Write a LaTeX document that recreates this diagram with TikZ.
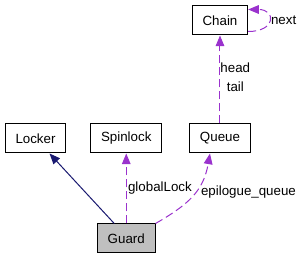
\documentclass[tikz,border=0pt]{standalone}
\usepackage{fontspec}
\setmainfont{Liberation Sans}
\usetikzlibrary{positioning,arrows.meta}

\definecolor{inhcol}{RGB}{25,25,112}
\definecolor{usecol}{RGB}{154,50,205}
\definecolor{boxgray}{RGB}{191,191,191}

\begin{document}
\begin{tikzpicture}[
  x=0.75pt, y=-0.75pt,
  cls/.style={draw, line width=0.75pt, minimum height=21.75pt, inner xsep=7.7pt, font=\fontsize{10}{14.25}\selectfont},
  lbl/.style={inner sep=1pt, font=\fontsize{10}{14.25}\selectfont, align=center},
  inherit/.style={draw=inhcol, line width=0.75pt, -{Triangle[length=8pt, width=6.5pt, fill=inhcol]}},
  usage/.style={draw=usecol, line width=0.75pt, dash pattern=on 6pt off 3pt, -{Triangle[length=8pt, width=6.5pt, fill=usecol]}}
]
\useasboundingbox (0,0) rectangle (301,259);
\node[cls] (queue) at (220,138.5) {Queue};
\node[cls, left=20.25pt of queue] (spinlock) {Spinlock};
\node[cls, left=18pt of spinlock] (locker) {Locker};
\node[cls, above=66pt of queue] (chain) {Chain};
\node[cls, fill=boxgray, below=52.5pt of spinlock] (guard) {Guard};

\draw[inherit] ([xshift=-9pt]guard.north) -- ([xshift=10.5pt]locker.south);
\draw[usage] (guard.north -| spinlock.south) -- node[lbl, right] {globalLock} (spinlock.south);
\draw[usage] (guard.north east) to[out=30, in=-100, looseness=1.1] node[lbl, pos=0.55, right, xshift=3pt] {epilogue\_queue} ([xshift=-7.5pt]queue.south);
\draw[usage] (queue.north) -- node[lbl, pos=0.52, right, inner sep=0pt] {head\\tail} (chain.south);
\draw[usage] ([yshift=3pt]chain.south east) .. controls +(21pt,0) and +(21pt,0) .. node[lbl, right] {next} ([yshift=-3pt]chain.north east);
\end{tikzpicture}
\end{document}
